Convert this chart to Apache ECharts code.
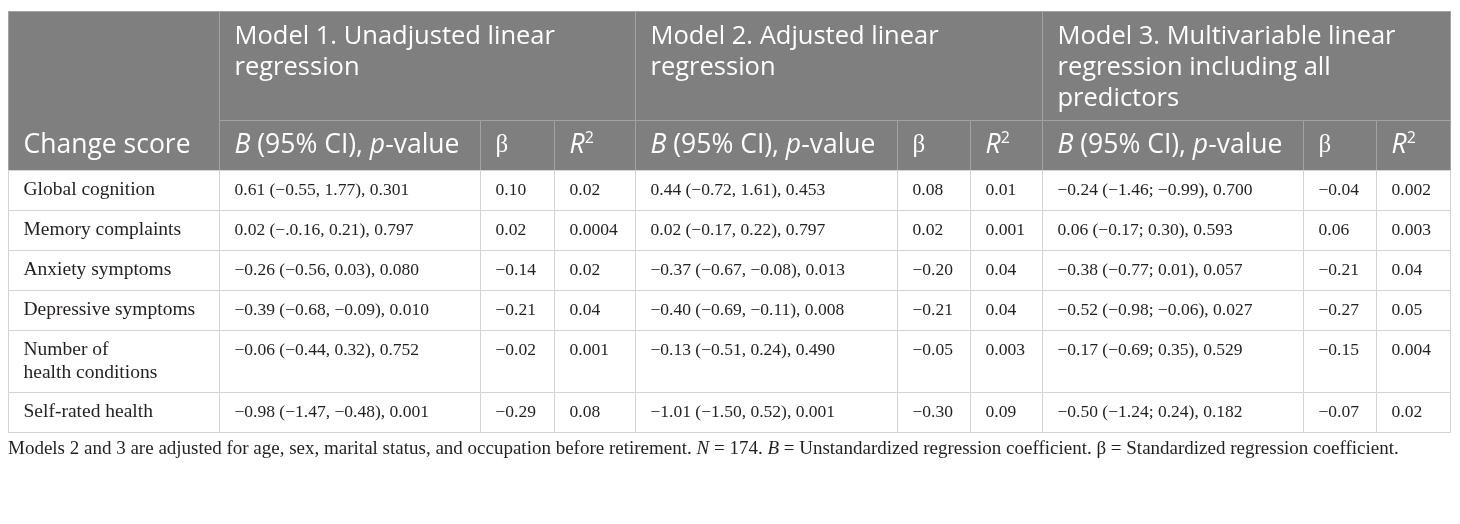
<!DOCTYPE html>
<html>
<head>
<meta charset="utf-8">
<script src="https://cdn.jsdelivr.net/npm/echarts@6/dist/echarts.min.js"></script>
<style>
html, body { margin: 0; padding: 0; background: #fff; }
#chart { width: 1460px; height: 524px; }
</style>
</head>
<body>
<div id="chart"></div>
<script>
// table content
var rowLabels = ['Global cognition', 'Memory complaints', 'Anxiety symptoms', 'Depressive symptoms', 'Number of\nhealth conditions', 'Self-rated health'];
var modelTitles = ['Model 1. Unadjusted linear\nregression', 'Model 2. Adjusted linear\nregression', 'Model 3. Multivariable linear\nregression including all\npredictors'];
var firstHeader = 'Change score';
var subHeaders = ['{i|B} (95% CI), {i|p}-value', '{b|β}', '{i|R}{sup|2}'];

var m1B = ['0.61 (−0.55, 1.77), 0.301', '0.02 (−.0.16, 0.21), 0.797', '−0.26 (−0.56, 0.03), 0.080', '−0.39 (−0.68, −0.09), 0.010', '−0.06 (−0.44, 0.32), 0.752', '−0.98 (−1.47, −0.48), 0.001'];
var m1Beta = ['0.10', '0.02', '−0.14', '−0.21', '−0.02', '−0.29'];
var m1R2 = ['0.02', '0.0004', '0.02', '0.04', '0.001', '0.08'];

var m2B = ['0.44 (−0.72, 1.61), 0.453', '0.02 (−0.17, 0.22), 0.797', '−0.37 (−0.67, −0.08), 0.013', '−0.40 (−0.69, −0.11), 0.008', '−0.13 (−0.51, 0.24), 0.490', '−1.01 (−1.50, 0.52), 0.001'];
var m2Beta = ['0.08', '0.02', '−0.20', '−0.21', '−0.05', '−0.30'];
var m2R2 = ['0.01', '0.001', '0.04', '0.04', '0.003', '0.09'];

var m3B = ['−0.24 (−1.46; −0.99), 0.700', '0.06 (−0.17; 0.30), 0.593', '−0.38 (−0.77; 0.01), 0.057', '−0.52 (−0.98; −0.06), 0.027', '−0.17 (−0.69; 0.35), 0.529', '−0.50 (−1.24; 0.24), 0.182'];
var m3Beta = ['−0.04', '0.06', '−0.21', '−0.27', '−0.15', '−0.07'];
var m3R2 = ['0.002', '0.003', '0.04', '0.05', '0.004', '0.02'];

var footnote = 'Models 2 and 3 are adjusted for age, sex, marital status, and occupation before retirement. {i|N} = 174. {i|B} = Unstandardized regression coefficient. β = Standardized regression coefficient.';

// layout (in page units, mapped through the axes)
var colEdges = [8, 219, 480, 554, 635, 897, 970, 1042, 1303, 1376, 1450];
var headEdges = [11, 120, 170];
var rowEdges = [170, 210, 250, 290, 330, 392, 432];

var columns = [m1B, m1Beta, m1R2, m2B, m2Beta, m2R2, m3B, m3Beta, m3R2];

var cells = [];
cells.push({ x0: colEdges[0], x1: colEdges[1], y0: headEdges[0], y1: headEdges[2], text: firstHeader, kind: 'sub' });
modelTitles.forEach(function (t, i) {
    cells.push({ x0: colEdges[1 + i * 3], x1: colEdges[4 + i * 3], y0: headEdges[0], y1: headEdges[1], text: t, kind: 'head' });
    subHeaders.forEach(function (s, j) {
        cells.push({ x0: colEdges[1 + i * 3 + j], x1: colEdges[2 + i * 3 + j], y0: headEdges[1], y1: headEdges[2], text: s, kind: 'sub' });
    });
});
rowLabels.forEach(function (lab, r) {
    cells.push({ x0: colEdges[0], x1: colEdges[1], y0: rowEdges[r], y1: rowEdges[r + 1], text: lab, kind: 'label' });
    columns.forEach(function (col, c) {
        cells.push({ x0: colEdges[c + 1], x1: colEdges[c + 2], y0: rowEdges[r], y1: rowEdges[r + 1], text: col[r], kind: 'body' });
    });
});

var sansFont = '"Open Sans", "Noto Sans", sans-serif';
var serifFont = '"Liberation Serif", "DejaVu Serif", serif';

var headRich = {
    i: { fontStyle: 'italic', fontFamily: sansFont, fontSize: 26.5, fill: '#fff', lineHeight: 30 },
    b: { fontFamily: serifFont, fontSize: 25, fill: '#fff', lineHeight: 30 },
    sup: { fontFamily: sansFont, fontSize: 16, fill: '#fff', lineHeight: 30, verticalAlign: 'top' }
};

function renderItem(params, api) {
    var c = cells[params.dataIndex];
    var p0 = api.coord([c.x0, c.y0]);
    var p1 = api.coord([c.x1, c.y1]);
    var x = Math.round(p0[0]) + 0.5, y = Math.round(p0[1]) + 0.5;
    var w = Math.round(p1[0]) - Math.round(p0[0]), h = Math.round(p1[1]) - Math.round(p0[1]);
    var isHead = c.kind === 'head' || c.kind === 'sub';
    var rect = {
        type: 'rect',
        shape: { x: x, y: y, width: w, height: h },
        style: { fill: isHead ? '#7f7f7f' : '#fff', stroke: isHead ? '#a3a3a3' : '#d3d3d3', lineWidth: 1 }
    };
    var text;
    if (!isHead) {
        text = {
            type: 'text', x: x + 15, y: y + 8,
            style: { text: c.text, fontFamily: serifFont, fontSize: c.kind === 'label' ? 19.5 : 17.5, lineHeight: 23, fill: '#231f20', verticalAlign: 'top' }
        };
    } else if (c.kind === 'head') {
        text = {
            type: 'text', x: x + 15, y: y + 10,
            style: { text: c.text, fontFamily: sansFont, fontSize: 25.5, lineHeight: 31, fill: '#fff', verticalAlign: 'top' }
        };
    } else {
        text = {
            type: 'text', x: x + 15, y: Math.round(p0[1] + (p1[1] - p0[1]) / 2),
            style: { text: c.text, rich: headRich, fontFamily: sansFont, fontSize: 26.5, lineHeight: 30, fill: '#fff', verticalAlign: 'middle' }
        };
        if (c.text === firstHeader) {
            text.y = Math.round(api.coord([0, (headEdges[1] + headEdges[2]) / 2])[1]);
        }
    }
    return { type: 'group', children: [rect, text] };
}

var chart = echarts.init(document.getElementById('chart'));

var option = {
    animation: false,
    title: {
        text: footnote,
        left: 8,
        top: 438,
        padding: 0,
        textStyle: {
            fontFamily: serifFont, fontSize: 19, fontWeight: 'normal', color: '#231f20', lineHeight: 22,
            rich: { i: { fontStyle: 'italic', fontFamily: serifFont, fontSize: 19, color: '#231f20', lineHeight: 22 } }
        }
    },
    grid: { left: 0, right: 0, top: 0, bottom: 0 },
    xAxis: { type: 'value', min: 0, max: 1460, show: false },
    yAxis: { type: 'value', min: 0, max: 524, inverse: true, show: false },
    series: [{
        type: 'custom',
        renderItem: renderItem,
        encode: { x: [0, 2], y: [1, 3] },
        data: cells.map(function (c) { return [c.x0, c.y0, c.x1, c.y1]; })
    }]
};

chart.setOption(option);
</script>
</body>
</html>
